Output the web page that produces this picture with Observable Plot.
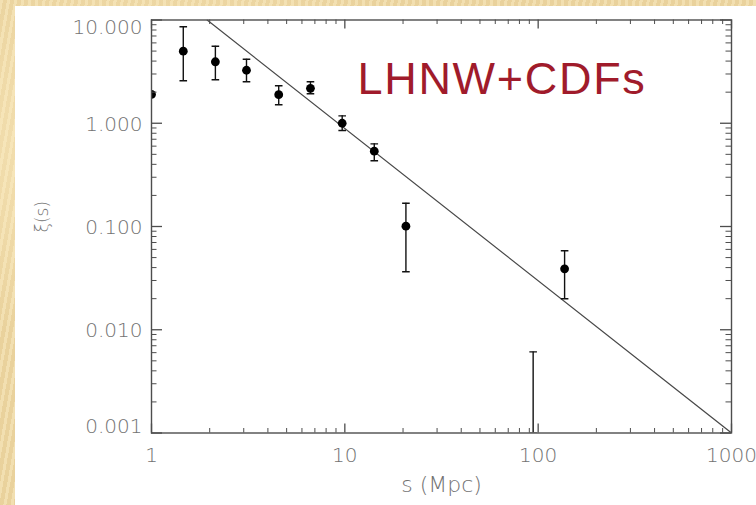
<!DOCTYPE html>
<html>
<head>
<meta charset="utf-8">
<script src="https://cdn.jsdelivr.net/npm/d3@7"></script>
<script src="https://cdn.jsdelivr.net/npm/@observablehq/plot@0.6"></script>
<style>
  html, body { margin: 0; padding: 0; }
  body {
    width: 756px; height: 505px; overflow: hidden; position: relative;
    background-color: #eed8a4;
    background-image:
      radial-gradient(ellipse at 20% 30%, rgba(255,240,200,0.6), transparent 40%),
      radial-gradient(ellipse at 70% 80%, rgba(220,190,130,0.5), transparent 45%),
      repeating-linear-gradient(100deg, rgba(255,245,215,0.25) 0 3px, rgba(215,185,125,0.2) 3px 7px);
  }
  #panel {
    position: absolute; left: 15px; top: 6px; width: 741px; height: 499px;
    background: #ffffff;
  }
  #panel svg { overflow: visible; }
</style>
</head>
<body>
<div id="panel"></div>
<script>
// ---- data ----
const sMpc   = [1, 1.46, 2.14, 3.10, 4.55, 6.64, 9.69, 14.2, 20.7, 94.2, 137];
const xiVal  = [1.90, 4.99, 3.94, 3.26, 1.89, 2.18, 1.00, 0.536, 0.1007, null, 0.0389];
const xiLow  = [null, 2.58, 2.64, 2.52, 1.51, 1.93, 0.85, 0.433, 0.0364, 0.001, 0.01995];
const xiHigh = [null, 8.59, 5.57, 4.17, 2.31, 2.52, 1.18, 0.632, 0.168, 0.0061, 0.0582];

// power-law fit line (end points)
const fitS  = [1.94, 1000];
const fitXi = [10, 0.001];

// tick labels
const xTickVals = [1, 10, 100, 1000];
const xTickText = ["1", "10", "100", "1000"];
const yTickVals = [10, 1, 0.1, 0.01, 0.001];
const yTickText = ["10.000", "1.000", "0.100", "0.010", "0.001"];

const xTitle = "s (Mpc)";
const yTitle = "ξ(s)";
const panelLabel = "LHNW+CDFs";

// ---- build tables ----
const points = sMpc.map((s, i) => ({s, xi: xiVal[i], lo: xiLow[i], hi: xiHigh[i]}));
const withXi = points.filter(d => d.xi != null);
const withErr = points.filter(d => d.lo != null);
const fit = fitS.map((s, i) => ({s, xi: fitXi[i]}));

const mult = [2,3,4,5,6,7,8,9];
const minorX = [1,10,100].flatMap(d => mult.map(m => d*m));
const minorY = [0.001,0.01,0.1,1].flatMap(d => mult.map(m => d*m));

const xLabels = xTickVals.map((v, i) => ({v, t: xTickText[i]}));
const yLabels = yTickVals.map((v, i) => ({v, t: yTickText[i]}));
const yMid = yLabels.slice(1, 4);

// cap symbol for error bars
const capSymbol = {
  draw(ctx, size) {
    const r = Math.sqrt(size / Math.PI);
    ctx.moveTo(-r, 0);
    ctx.lineTo(r, 0);
  }
};

const W = 741, H = 499, ML = 136, MR = 25, MT = 13.5, MB = 72.5;
const FW = W - ML - MR, FH = H - MT - MB;
const xDom = [1, 1000], yDom = [0.001, 10];
const pxPerDecX = FW / 3, pxPerDecY = FH / 4;

const tickFont = "'DejaVu Sans', sans-serif";
const tickColor = "#727272";
const axisColor = "#4d4d4d";

// inward ticks as short rules; pixel length converted to a factor on the log scale
function xTicks(vals, side, len, sw) {
  const f = Math.pow(10, len / pxPerDecY);
  const ends = side === "bottom" ? {y1: () => yDom[0], y2: () => yDom[0] * f}
                                 : {y1: () => yDom[1] / f, y2: () => yDom[1]};
  return Plot.ruleX(vals, {x: d => d, ...ends, stroke: axisColor, strokeWidth: sw});
}
function yTicks(vals, side, len, sw) {
  const f = Math.pow(10, len / pxPerDecX);
  const ends = side === "left" ? {x1: () => xDom[0], x2: () => xDom[0] * f}
                               : {x1: () => xDom[1] / f, x2: () => xDom[1]};
  return Plot.ruleY(vals, {y: d => d, ...ends, stroke: axisColor, strokeWidth: sw});
}

const chart = Plot.plot({
  width: W,
  height: H,
  marginLeft: ML,
  marginRight: MR,
  marginTop: MT,
  marginBottom: MB,
  x: {type: "log", domain: xDom, axis: null},
  y: {type: "log", domain: yDom, axis: null},
  style: {background: "transparent", fontFamily: tickFont},
  marks: [
    // tick labels
    Plot.text(xLabels, {x: "v", text: "t", frameAnchor: "bottom", lineAnchor: "middle", dy: 23, fontSize: 20, fill: tickColor, fontWeight: 300}),
    Plot.text(yMid, {y: "v", text: "t", frameAnchor: "left", textAnchor: "end", dx: -9, dy: 1, fontSize: 20, fill: tickColor, fontWeight: 300}),
    Plot.text([yLabels[0]], {y: "v", text: "t", frameAnchor: "left", textAnchor: "end", dx: -9, dy: 8, fontSize: 20, fill: tickColor, fontWeight: 300}),
    Plot.text([yLabels[4]], {y: "v", text: "t", frameAnchor: "left", textAnchor: "end", dx: -9, dy: -6, fontSize: 20, fill: tickColor, fontWeight: 300}),

    // axis titles
    Plot.text([xTitle], {text: d => d, frameAnchor: "bottom", lineAnchor: "middle", dy: 52, fontSize: 22, fill: tickColor, fontWeight: 300}),
    Plot.text([yTitle], {text: d => d, frameAnchor: "left", rotate: -90, dx: -109, dy: 6, fontSize: 17, fill: tickColor, fontWeight: 300}),

    // fit line
    Plot.line(fit, {x: "s", y: "xi", stroke: "#4a4a4a", strokeWidth: 1.2, clip: true}),

    // error bars
    Plot.ruleX(withErr, {x: "s", y1: "lo", y2: "hi", stroke: "#111", strokeWidth: 1.4, clip: true}),
    Plot.dot(withErr, {x: "s", y: "hi", symbol: capSymbol, r: 3.8, stroke: "#111", strokeWidth: 1.4, clip: true}),
    Plot.dot(withErr, {x: "s", y: "lo", symbol: capSymbol, r: 3.8, stroke: "#111", strokeWidth: 1.4, clip: true}),

    // points
    Plot.dot(withXi, {x: "s", y: "xi", r: 4.4, fill: "#000", stroke: "none", clip: true}),

    // inward major/minor ticks on all four sides
    xTicks(xTickVals, "bottom", 9, 1.3),
    xTicks(minorX, "bottom", 4.5, 1),
    xTicks(xTickVals, "top", 9, 1.3),
    xTicks(minorX, "top", 4.5, 1),
    yTicks(yTickVals, "left", 11, 1.3),
    yTicks(minorY, "left", 5.5, 1),
    yTicks(yTickVals, "right", 11, 1.3),
    yTicks(minorY, "right", 5.5, 1),

    // frame
    Plot.frame({stroke: axisColor, strokeWidth: 1.4}),

    // panel label
    Plot.text([panelLabel], {text: d => d, frameAnchor: "top-left", textAnchor: "start", lineAnchor: "top", dx: 206, dy: 42.5, fontSize: 45, fill: "#a01b2b", fontFamily: "'Liberation Sans', Arial, sans-serif"})
  ]
});

// slightly wider letter spacing for the panel label, as in the reference
d3.select(chart).selectAll("text")
  .filter(function() { return this.textContent === panelLabel; })
  .style("letter-spacing", "1.7px");

document.getElementById("panel").appendChild(chart);
</script>
</body>
</html>
